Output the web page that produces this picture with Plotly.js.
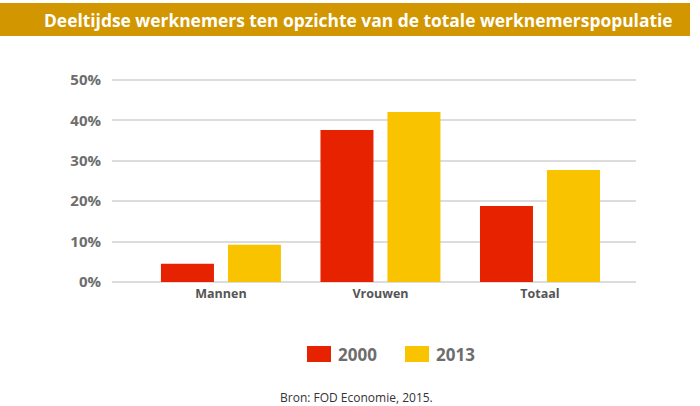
<!DOCTYPE html>
<html>
<head>
<meta charset="utf-8">
<script src="https://cdn.plot.ly/plotly-3.0.1.min.js"></script>
<style>html,body{margin:0;padding:0;background:#fff;}#chart{width:700px;height:406px;}</style>
</head>
<body>
<div id="chart"></div>
<script>
const categories = ["Mannen", "Vrouwen", "Totaal"];
const seriesNames = ["2000", "2013"];
const values2000 = [4.5, 37.6, 18.8];
const values2013 = [9.2, 42.1, 27.7];
const yTickVals = [0, 10, 20, 30, 40, 50];
const yTickText = ["0%", "10%", "20%", "30%", "40%", "50%"];
const titleText = "Deeltijdse werknemers ten opzichte van de totale werknemerspopulatie";
const sourceText = "Bron: FOD Economie, 2015.";
const colors = ["#E62200", "#F9C300"];

const font = "'Open Sans', 'DejaVu Sans', sans-serif";

const traces = [
  {type: "bar", name: seriesNames[0], x: categories, y: values2000, marker: {color: colors[0]}, hoverinfo: "skip"},
  {type: "bar", name: seriesNames[1], x: categories, y: values2013, marker: {color: colors[1]}, hoverinfo: "skip"}
];

const legendX = [307, 405];
const shapes = [
  {type: "rect", xref: "paper", yref: "paper", x0: -112/524, x1: 578/524, y0: 1 + (78-3)/206, y1: 1 + (78-36)/206, fillcolor: "#D29600", line: {width: 0}, layer: "below"}
];
const annotations = [
  {xref: "paper", yref: "paper", x: (358-112)/524, y: 1 + (78-19.5)/206, text: "<b>" + titleText + "</b>", showarrow: false, xanchor: "center", yanchor: "middle", font: {family: font, size: 17.4, color: "#ffffff"}},
  {xref: "paper", yref: "paper", x: (356-112)/524, y: -(397-284)/206, text: sourceText, showarrow: false, xanchor: "center", yanchor: "middle", font: {family: font, size: 12, color: "#333333"}}
];
seriesNames.forEach((n, i) => {
  const x0 = legendX[i];
  shapes.push({type: "rect", xref: "paper", yref: "paper", x0: (x0-112)/524, x1: (x0+24-112)/524, y0: -(362-284)/206, y1: -(346-284)/206, fillcolor: colors[i], line: {width: 0}});
  annotations.push({xref: "paper", yref: "paper", x: (x0+29-112)/524, y: -(354-284)/206, text: "<b>" + n + "</b>", showarrow: false, xanchor: "left", yanchor: "middle", font: {family: font, size: 17, color: "#6d6d6d"}});
});

const layout = {
  width: 700, height: 406,
  margin: {l: 112, r: 64, t: 78, b: 122},
  paper_bgcolor: "#ffffff", plot_bgcolor: "#ffffff",
  showlegend: false,
  barmode: "group",
  bargap: 0.16,
  bargroupgap: 0.209,
  xaxis: {
    range: [-0.683, 2.602],
    showgrid: false, zeroline: false, showline: false,
    ticks: "", tickfont: {family: font, size: 12.5, color: "#555555", weight: "bold"},
    fixedrange: true
  },
  yaxis: {
    range: [-0.5, 50.5],
    tickvals: yTickVals, ticktext: yTickText,
    showgrid: true, gridcolor: "#dcdcdc", gridwidth: 2,
    zeroline: false, showline: false, ticks: "",
    ticklabelstandoff: 10,
    tickfont: {family: font, size: 15, color: "#6d6d6d", weight: "bold"},
    fixedrange: true
  },
  shapes: shapes,
  annotations: annotations,
  font: {family: font}
};

Plotly.newPlot("chart", traces, layout, {displayModeBar: false, staticPlot: true});
</script>
</body>
</html>
